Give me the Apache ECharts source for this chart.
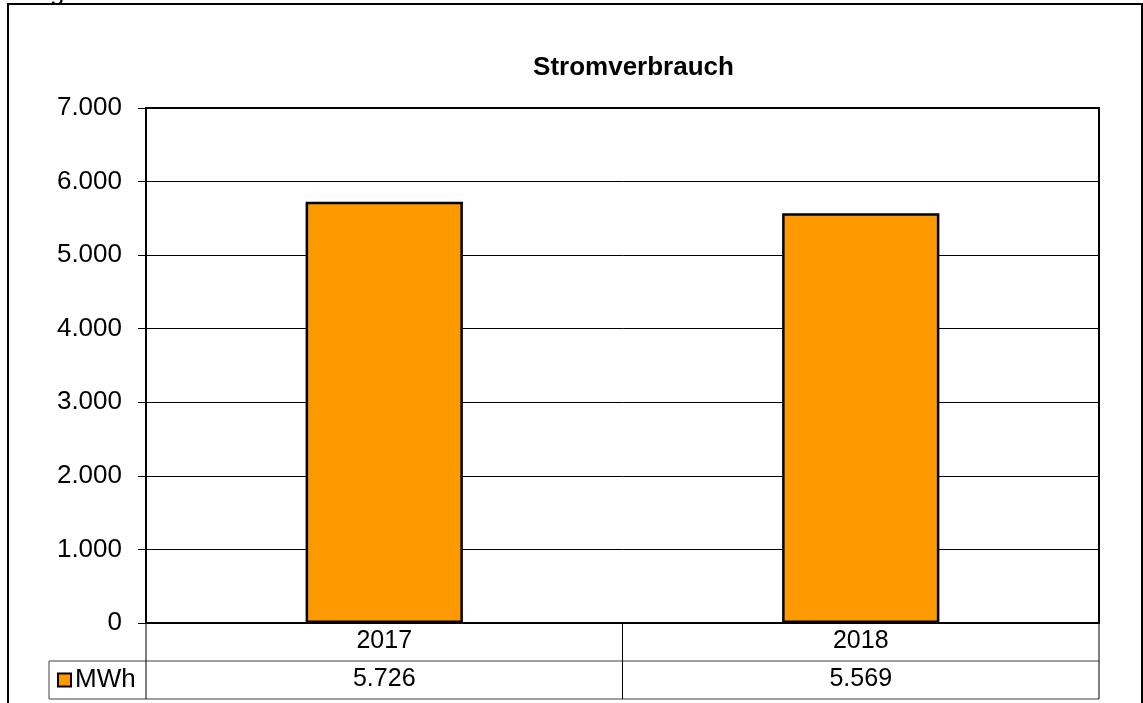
<!DOCTYPE html>
<html>
<head>
<meta charset="utf-8">
<script src="https://cdn.jsdelivr.net/npm/echarts@6/dist/echarts.min.js"></script>
<style>
  html, body { margin: 0; padding: 0; background: #fff; }
  #chart { width: 1143px; height: 703px; }
</style>
</head>
<body>
<div id="chart"></div>
<script>
// data
var years = ['2017', '2018'];
var mwh = [5726, 5569];
var seriesName = 'MWh';
var titleText = 'Stromverbrauch';
var yTicks = [0, 1000, 2000, 3000, 4000, 5000, 6000, 7000];

// layout of plot area and table
var W = 1143, H = 703;
var pL = 146, pT = 108, pR = 1099, pB = 623;
var rowH = 38;
var legendCellL = 49;
var font = '"Liberation Sans", Arial, sans-serif';

function fmt(v) {
    // german thousands separator
    return String(v).replace(/\B(?=(\d{3})+(?!\d))/g, '.');
}

var chart = echarts.init(document.getElementById('chart'));

var midX = (pL + pR) / 2;
var lineBlack = { stroke: '#000', lineWidth: 1 };
var lineGray = { stroke: '#808080', lineWidth: 1.5 };

var option = {
    animation: false,
    textStyle: { fontFamily: font },
    title: {
        text: titleText,
        left: midX + 6,
        top: 50,
        textAlign: 'center',
        textStyle: { fontSize: 26, fontWeight: 'bold', color: '#000', fontFamily: font }
    },
    legend: {
        data: [seriesName],
        left: 57,
        top: pB + rowH + 6,
        icon: 'rect',
        itemWidth: 13,
        itemHeight: 13,
        itemGap: 5,
        padding: 0,
        textStyle: { fontSize: 26, color: '#000', fontFamily: font, padding: [0, 0, 0, -1] }
    },
    grid: {
        left: pL,
        top: pT,
        right: W - pR,
        bottom: H - pB,
        show: true,
        borderColor: '#000',
        borderWidth: 2
    },
    xAxis: [{
        type: 'category',
        data: years,
        position: 'bottom',
        axisLine: { show: false },
        axisTick: { show: false },
        axisLabel: { margin: 6, fontSize: 25, color: '#000', fontFamily: font }
    }, {
        type: 'category',
        data: mwh.map(fmt),
        position: 'bottom',
        offset: rowH,
        axisLine: { show: false },
        axisTick: { show: false },
        axisLabel: { margin: 6, fontSize: 25, color: '#000', fontFamily: font }
    }],
    yAxis: {
        type: 'value',
        min: yTicks[0],
        max: yTicks[yTicks.length - 1],
        interval: 1000,
        axisLine: { show: true, lineStyle: { color: '#000', width: 1 } },
        axisTick: { show: true, length: 8, lineStyle: { color: '#000' } },
        axisLabel: { margin: 24, fontSize: 26, color: '#000', fontFamily: font, formatter: fmt },
        splitLine: { show: true, lineStyle: { color: '#000', width: 1 } }
    },
    series: [{
        name: seriesName,
        type: 'bar',
        data: mwh,
        barWidth: '33%',
        itemStyle: { color: '#FF9900', borderColor: '#000', borderWidth: 2.5 }
    }],
    graphic: [
        // outer chart frame
        { type: 'rect', shape: { x: 8, y: 4, width: 1134, height: 730 }, style: { fill: 'none', stroke: '#000', lineWidth: 2 }, silent: true },
        // cut-off text above the frame
        { type: 'text', left: 50, top: -20, style: { text: 'g', fontSize: 26, fontFamily: font, fill: '#000' } },
        // data table lines
        { type: 'line', shape: { x1: legendCellL, y1: pB + rowH, x2: pR, y2: pB + rowH }, style: lineGray },
        { type: 'line', shape: { x1: legendCellL, y1: pB + 2 * rowH, x2: pR, y2: pB + 2 * rowH }, style: lineGray },
        { type: 'line', shape: { x1: legendCellL, y1: pB + rowH, x2: legendCellL, y2: pB + 2 * rowH }, style: lineGray },
        { type: 'line', shape: { x1: pL, y1: pB, x2: pL, y2: pB + 2 * rowH }, style: lineBlack },
        { type: 'line', shape: { x1: midX, y1: pB, x2: midX, y2: pB + 2 * rowH }, style: lineBlack },
        { type: 'line', shape: { x1: pR, y1: pB, x2: pR, y2: pB + 2 * rowH }, style: lineBlack }
    ]
};

chart.setOption(option);
</script>
</body>
</html>
